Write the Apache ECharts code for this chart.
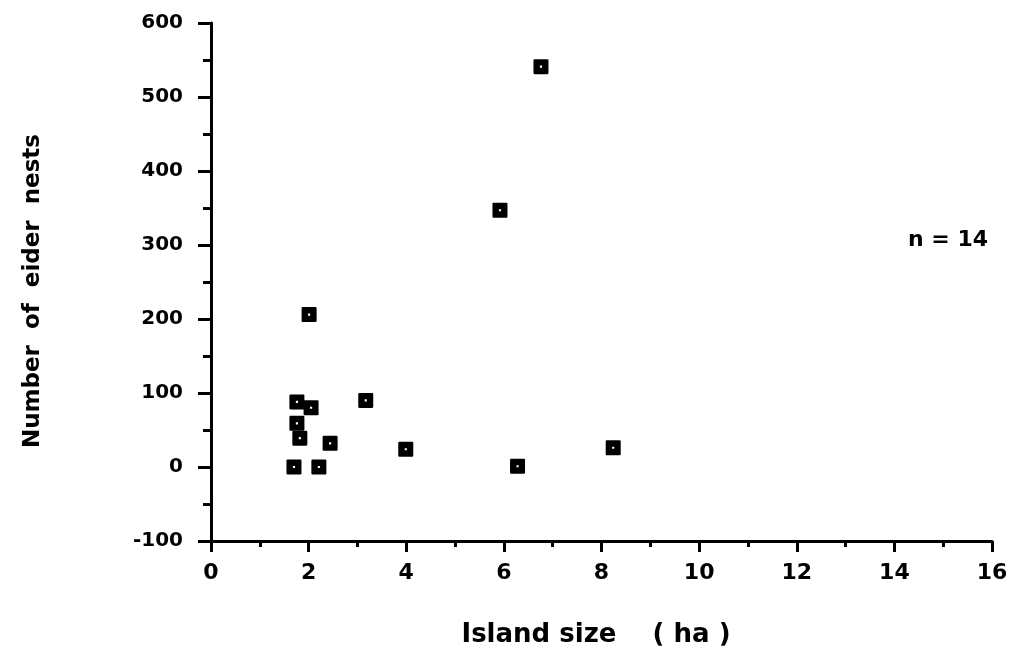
<!DOCTYPE html>
<html><head><meta charset="utf-8">
<script src="https://cdn.jsdelivr.net/npm/echarts@6/dist/echarts.min.js"></script>
<style>html,body{margin:0;padding:0;background:#fff}#c{width:1011px;height:651px}</style>
</head><body><div id="c"></div>
<script>
const islandSize = [6.76, 5.92, 2.01, 1.76, 2.05, 1.76, 1.82, 1.70, 2.21, 2.44, 3.17, 3.99, 6.28, 8.24];
const eiderNests = [541, 347, 206, 88, 80, 59, 39, 0, 0, 32, 90, 24, 1, 26];
const xTicks = [0, 2, 4, 6, 8, 10, 12, 14, 16];
const yTicks = [-100, 0, 100, 200, 300, 400, 500, 600];
const xTitle = 'Island size    ( ha )';
const yTitle = 'Number  of  eider  nests';
const note = 'n = 14';

const chart = echarts.init(document.getElementById('c'), null, {renderer: 'canvas'});
const font = '"DejaVu Sans", "Liberation Sans", Arial, sans-serif';
const data = islandSize.map((x, i) => [x, eiderNests[i]]);
chart.setOption({
  animation: false,
  backgroundColor: '#fff',
  grid: {left: 211, right: 19, top: 23, bottom: 110},
  xAxis: {
    type: 'value', min: xTicks[0], max: xTicks[xTicks.length - 1], interval: 2,
    axisLine: {onZero: false, lineStyle: {color: '#000', width: 3}},
    axisTick: {show: true, length: 11, lineStyle: {color: '#000', width: 3}},
    minorTick: {show: true, splitNumber: 2, length: 6, lineStyle: {color: '#000', width: 3}},
    splitLine: {show: false},
    axisLabel: {color: '#000', fontSize: 22, fontWeight: 'bold', fontFamily: font, margin: 21}
  },
  yAxis: {
    type: 'value', min: yTicks[0], max: yTicks[yTicks.length - 1], interval: 100,
    axisLine: {show: true, onZero: false, lineStyle: {color: '#000', width: 3}},
    axisTick: {show: true, length: 13, lineStyle: {color: '#000', width: 3}},
    minorTick: {show: true, splitNumber: 2, length: 8, lineStyle: {color: '#000', width: 3}},
    splitLine: {show: false},
    axisLabel: {color: '#000', fontSize: 20, fontWeight: 'bold', fontFamily: font, margin: 28}
  },
  graphic: [{
    type: 'text', x: 33, y: 291, rotation: Math.PI / 2,
    style: {text: yTitle, fill: '#000', font: 'bold 23px ' + font, align: 'center', verticalAlign: 'middle'}
  }, {
    type: 'text', x: 596, y: 635,
    style: {text: xTitle, fill: '#000', font: 'bold 26px ' + font, align: 'center', verticalAlign: 'middle'}
  }, {
    type: 'text', x: 908, y: 240,
    style: {text: note, fill: '#000', font: 'bold 22px ' + font, verticalAlign: 'middle'}
  }],
  series: [{
    type: 'scatter',
    data: data,
    symbol: 'path://M1,0 H13 Q14,0 14,1 V13 Q14,14 13,14 H1 Q0,14 0,13 V1 Q0,0 1,0 Z M6,6 V8 H8 V6 Z',
    symbolSize: 15,
    itemStyle: {color: '#000', opacity: 1}
  }]
});
</script></body></html>
